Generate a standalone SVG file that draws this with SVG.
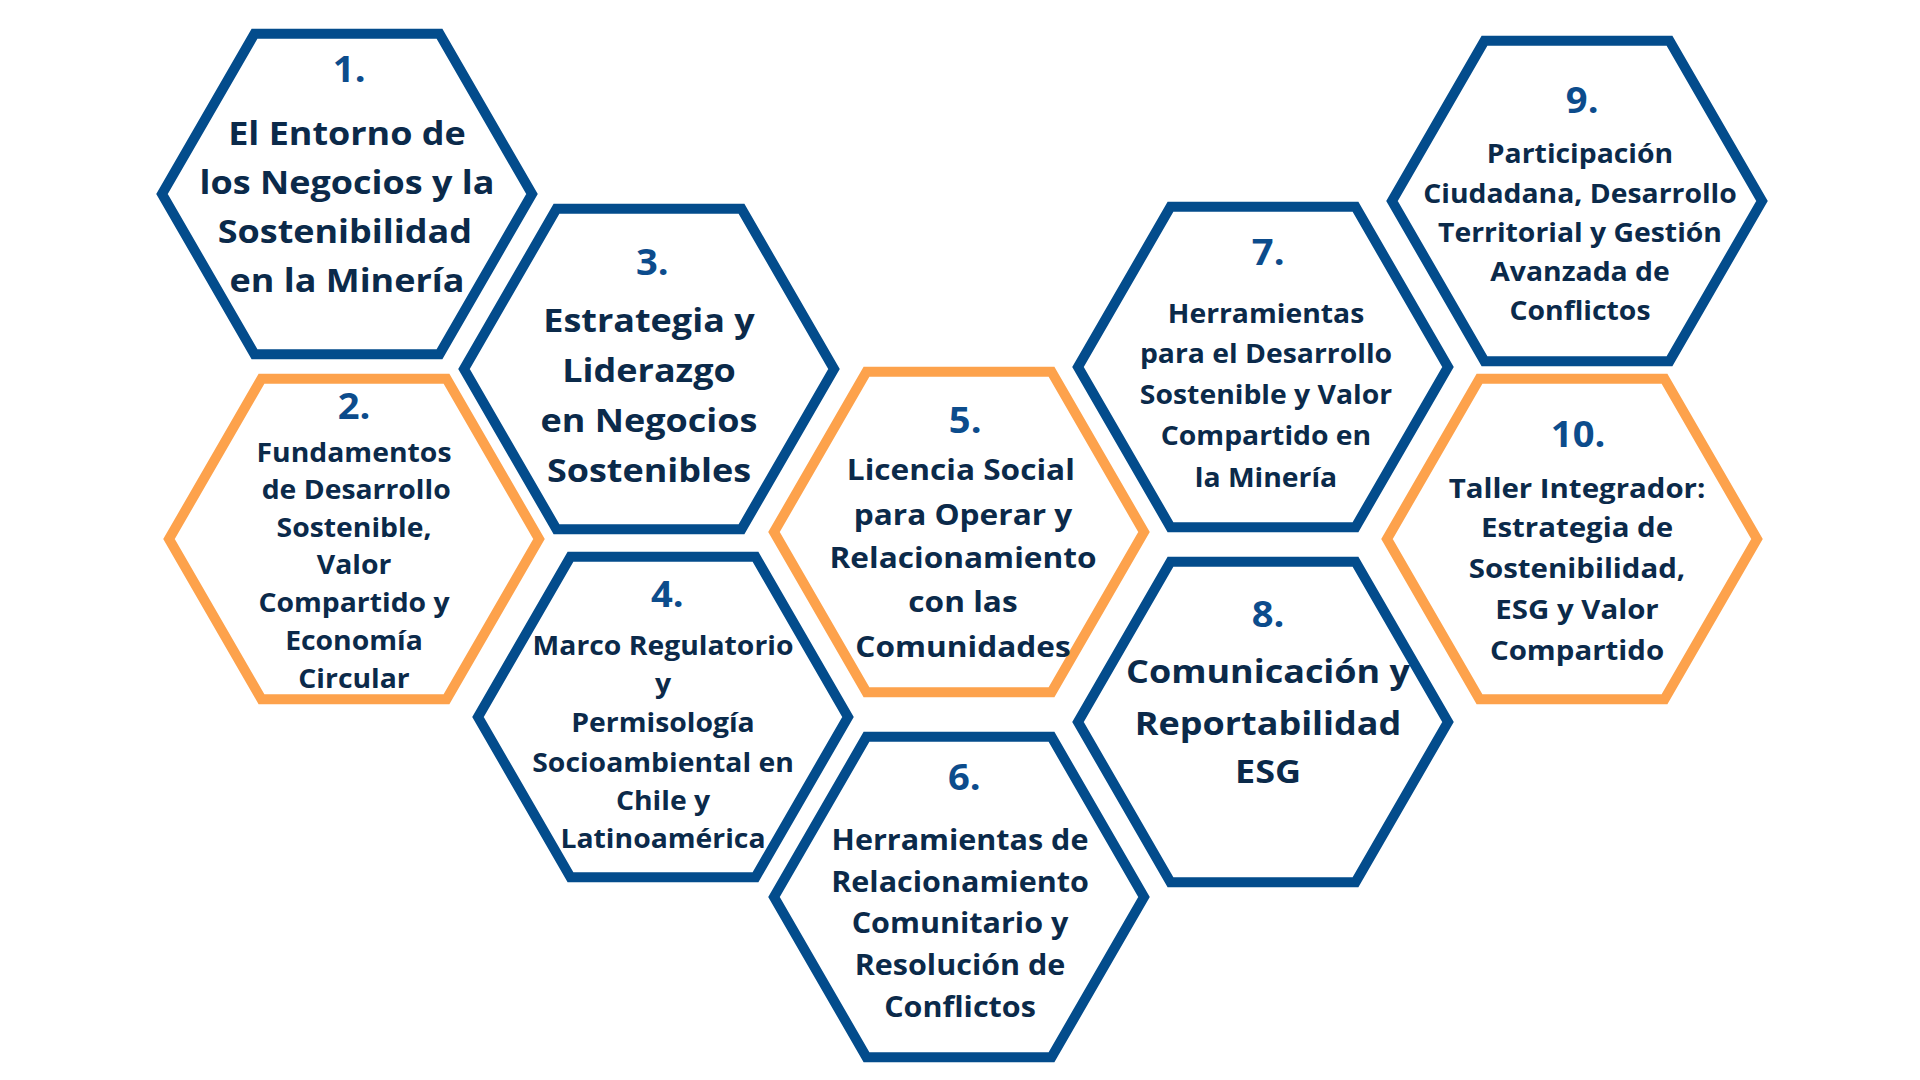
<svg xmlns="http://www.w3.org/2000/svg" xmlns:xlink="http://www.w3.org/1999/xlink" width="1920" height="1080" viewBox="0 0 1920 1080">
<style>
.hb{fill:#fff;stroke:#034C8C;stroke-width:10;stroke-linejoin:miter}
.ho{fill:#fff;stroke:#FDA24C;stroke-width:10;stroke-linejoin:miter}
text{font-family:"Open Sans","Noto Sans","Liberation Sans",sans-serif;font-weight:700;text-anchor:middle}
.num{fill:#0C4C8C;font-size:35px}
.t{fill:#0B2A4A}
.big{font-size:33px}
.m29{font-size:29px}
.m28{font-size:28px}
.m27{font-size:27px}
.sm{font-size:26px}
</style>
<defs>
<polygon id="hex" points="-185,0 -92.5,-160.2 92.5,-160.2 185,0 92.5,160.2 -92.5,160.2"/>
</defs>
<rect width="1920" height="1080" fill="#fff"/>
<g id="connectors"></g>
<g id="n1">
<use xlink:href="#hex" href="#hex" class="hb" x="347" y="194"/>
<g transform="translate(347 0) scale(1.09 1)">
<text class="num" x="2" y="82">1.</text>
<text class="t big"><tspan x="0" y="145">El Entorno de</tspan><tspan x="0" y="194">los Negocios y la</tspan><tspan x="-2" y="243">Sostenibilidad</tspan><tspan x="0" y="292">en la Minería</tspan></text>
</g>
</g>
<g id="n2">
<use xlink:href="#hex" href="#hex" class="ho" x="354" y="539"/>
<g transform="translate(354 0) scale(1.09 1)">
<text class="num" x="0" y="419">2.</text>
<text class="t sm"><tspan x="0" y="462">Fundamentos</tspan><tspan x="2" y="499">de Desarrollo</tspan><tspan x="0" y="537">Sostenible,</tspan><tspan x="0" y="574">Valor</tspan><tspan x="0" y="612">Compartido y</tspan><tspan x="0" y="650">Economía</tspan><tspan x="0" y="688">Circular</tspan></text>
</g>
</g>
<g id="n3">
<use xlink:href="#hex" href="#hex" class="hb" x="649" y="369"/>
<g transform="translate(649 0) scale(1.09 1)">
<text class="num" x="3" y="275">3.</text>
<text class="t big"><tspan x="0" y="332">Estrategia y</tspan><tspan x="0" y="382">Liderazgo</tspan><tspan x="0" y="432">en Negocios</tspan><tspan x="0" y="482">Sostenibles</tspan></text>
</g>
</g>
<g id="n4">
<use xlink:href="#hex" href="#hex" class="hb" x="663" y="717"/>
<g transform="translate(663 0) scale(1.09 1)">
<text class="num" x="4" y="607">4.</text>
<text class="t sm"><tspan x="0" y="655">Marco Regulatorio</tspan><tspan x="0" y="693">y</tspan><tspan x="0" y="732">Permisología</tspan><tspan x="0" y="772">Socioambiental en</tspan><tspan x="0" y="810">Chile y</tspan><tspan x="0" y="848">Latinoamérica</tspan></text>
</g>
</g>
<g id="n5">
<use xlink:href="#hex" href="#hex" class="ho" x="959" y="532"/>
<g transform="translate(963 0) scale(1.09 1)">
<text class="num" x="2" y="433">5.</text>
<text class="t m29"><tspan x="-2" y="480">Licencia Social</tspan><tspan x="0" y="525">para Operar y</tspan><tspan x="0" y="568">Relacionamiento</tspan><tspan x="0" y="612">con las</tspan><tspan x="0" y="657">Comunidades</tspan></text>
</g>
</g>
<g id="n6">
<use xlink:href="#hex" href="#hex" class="hb" x="959" y="897"/>
<g transform="translate(960 0) scale(1.09 1)">
<text class="num" x="4" y="790">6.</text>
<text class="t m28"><tspan x="0" y="850">Herramientas de</tspan><tspan x="0" y="892">Relacionamiento</tspan><tspan x="0" y="933">Comunitario y</tspan><tspan x="0" y="975">Resolución de</tspan><tspan x="0" y="1017">Conflictos</tspan></text>
</g>
</g>
<g id="n7">
<use xlink:href="#hex" href="#hex" class="hb" x="1263" y="367"/>
<g transform="translate(1266 0) scale(1.09 1)">
<text class="num" x="2" y="265">7.</text>
<text class="t sm"><tspan x="0" y="323">Herramientas</tspan><tspan x="0" y="363">para el Desarrollo</tspan><tspan x="0" y="404">Sostenible y Valor</tspan><tspan x="0" y="445">Compartido en</tspan><tspan x="0" y="487">la Minería</tspan></text>
</g>
</g>
<g id="n8">
<use xlink:href="#hex" href="#hex" class="hb" x="1263" y="722"/>
<g transform="translate(1268 0) scale(1.09 1)">
<text class="num" x="0" y="627">8.</text>
<text class="t big"><tspan x="0" y="683">Comunicación y</tspan><tspan x="0" y="735">Reportabilidad</tspan><tspan x="0" y="783">ESG</tspan></text>
</g>
</g>
<g id="n9">
<use xlink:href="#hex" href="#hex" class="hb" x="1577" y="201"/>
<g transform="translate(1580 0) scale(1.09 1)">
<text class="num" x="2" y="113">9.</text>
<text class="t sm"><tspan x="0" y="163">Participación</tspan><tspan x="0" y="203">Ciudadana, Desarrollo</tspan><tspan x="0" y="242">Territorial y Gestión</tspan><tspan x="0" y="281">Avanzada de</tspan><tspan x="0" y="320">Conflictos</tspan></text>
</g>
</g>
<g id="n10">
<use xlink:href="#hex" href="#hex" class="ho" x="1572" y="539"/>
<g transform="translate(1577 0) scale(1.09 1)">
<text class="num" x="1" y="447">10.</text>
<text class="t m27"><tspan x="0" y="498">Taller Integrador:</tspan><tspan x="0" y="537">Estrategia de</tspan><tspan x="0" y="578">Sostenibilidad,</tspan><tspan x="0" y="619">ESG y Valor</tspan><tspan x="0" y="660">Compartido</tspan></text>
</g>
</g>
</svg>
